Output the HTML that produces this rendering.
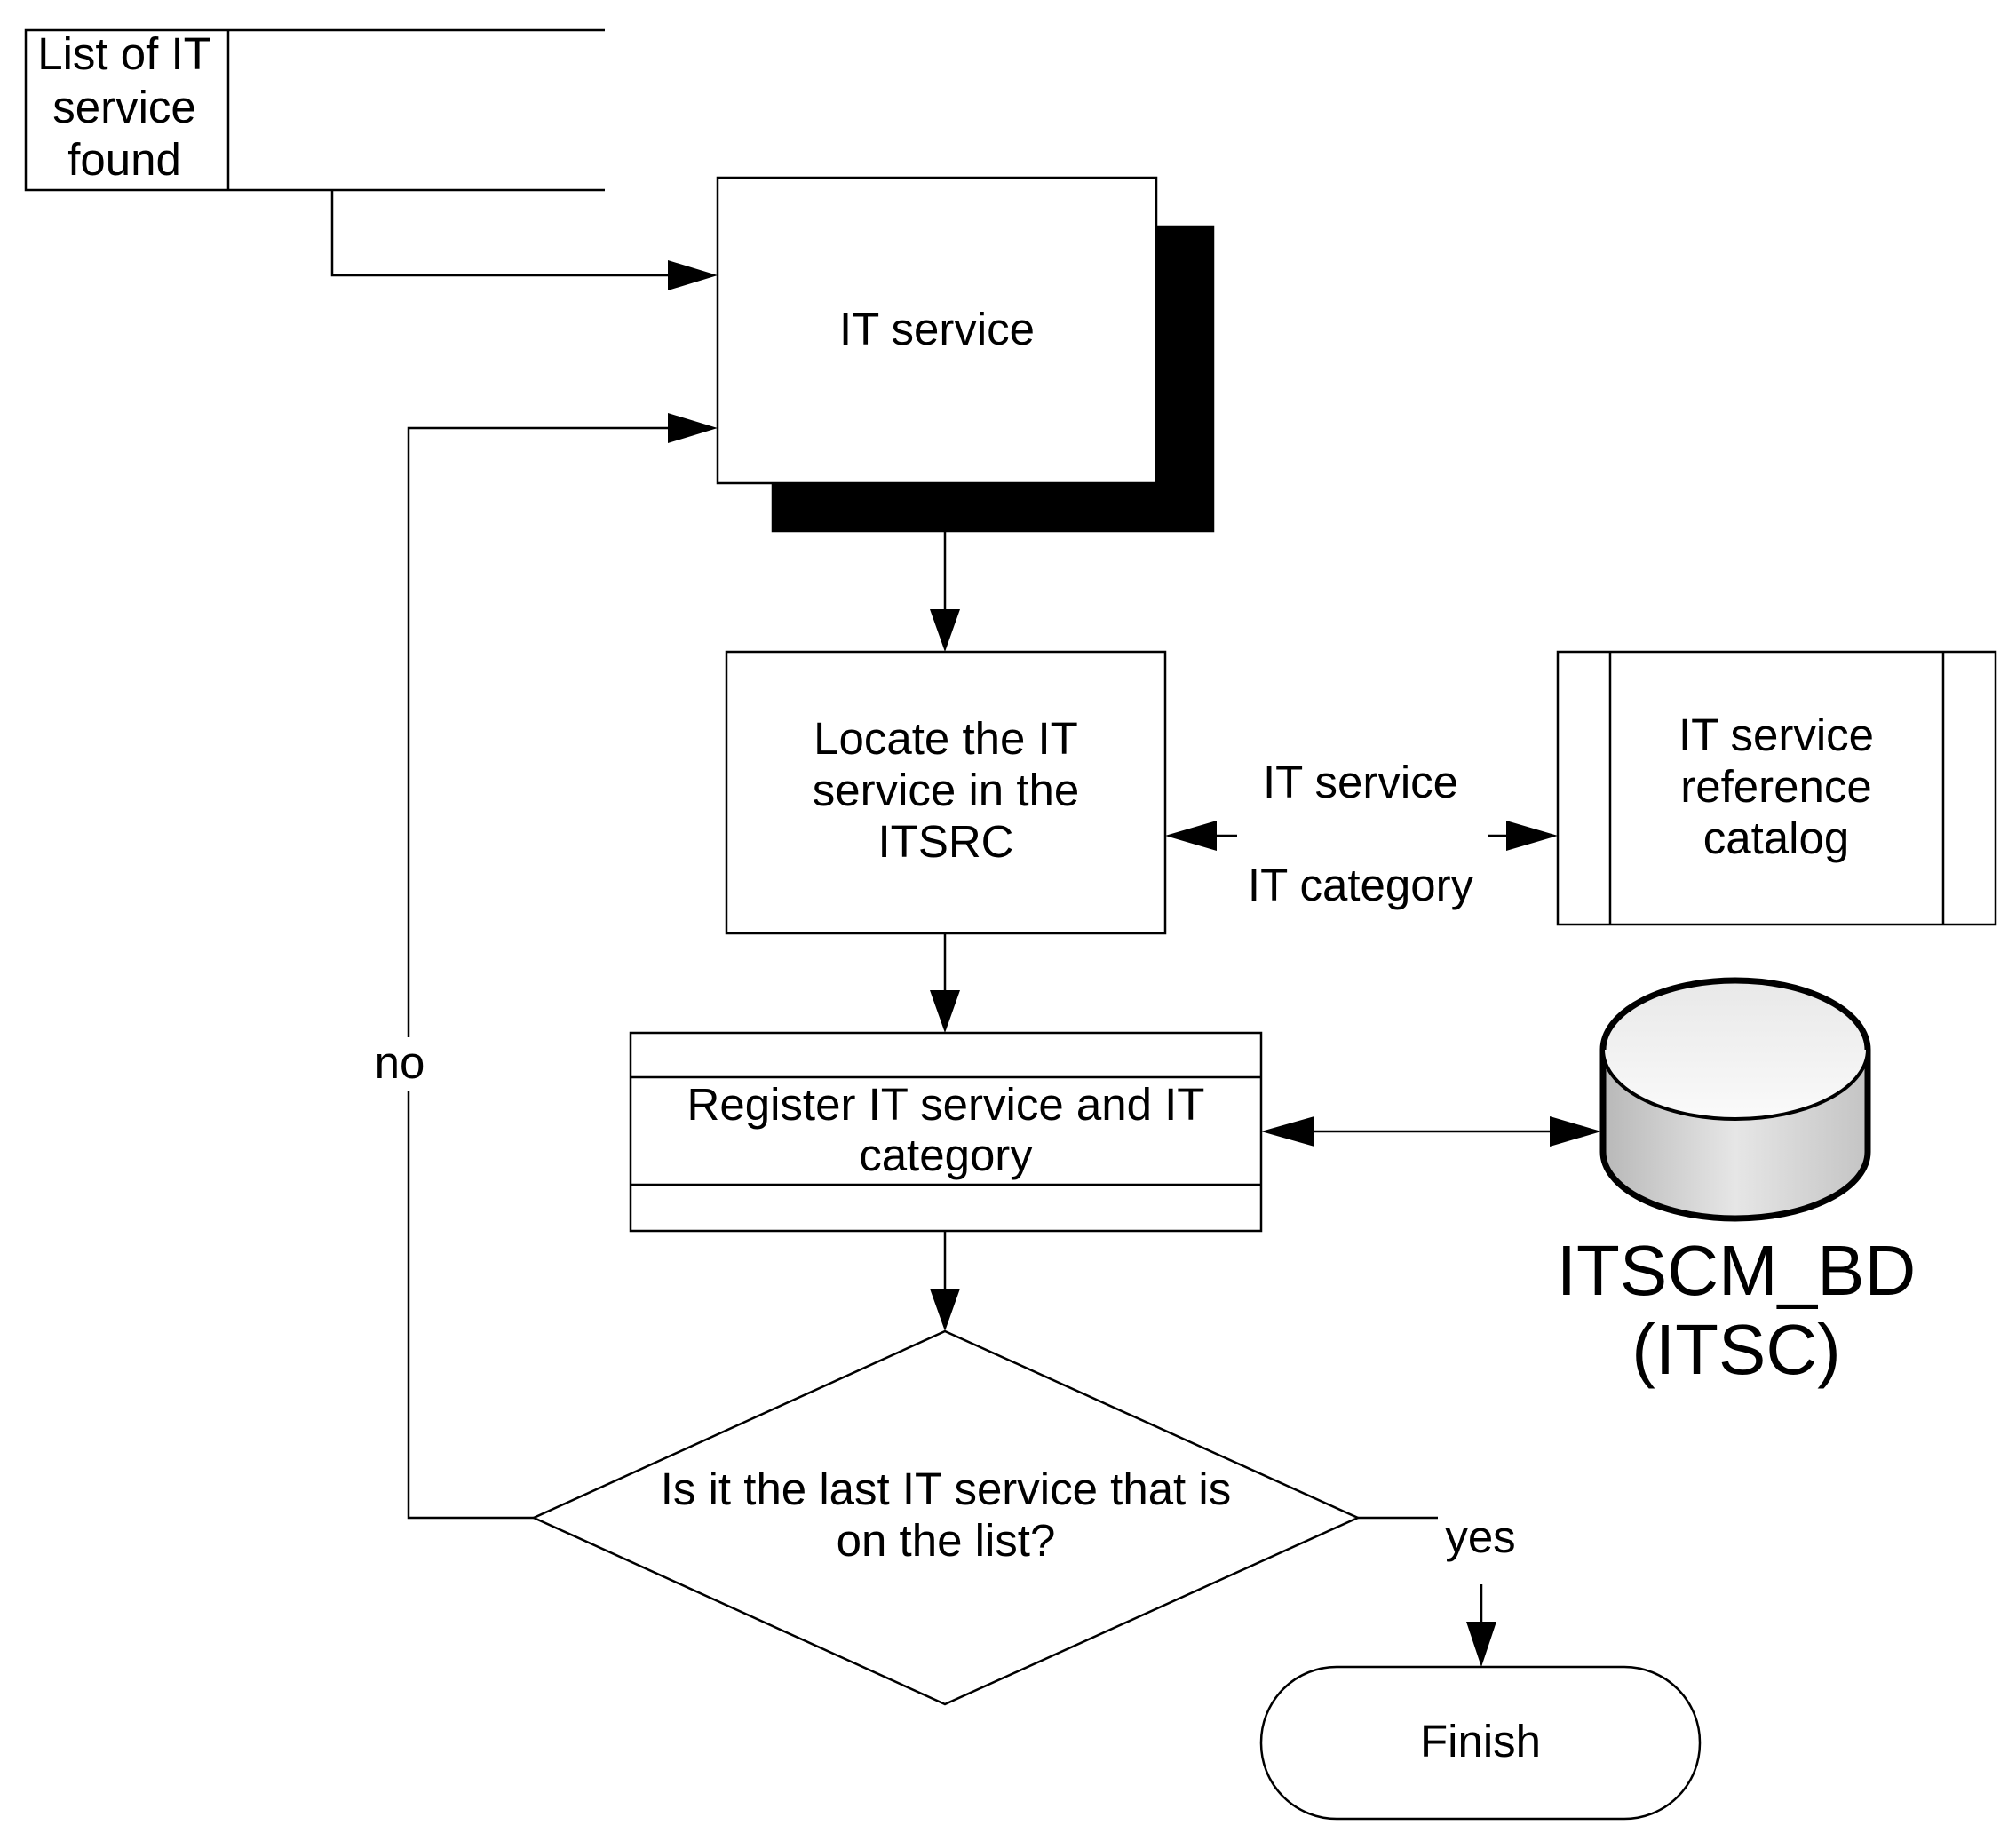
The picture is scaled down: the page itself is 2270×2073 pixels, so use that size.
<!DOCTYPE html>
<html><head><meta charset="utf-8"><style>html,body{margin:0;padding:0;background:#fff}svg{display:block}</style></head>
<body>
<svg width="2270" height="2073" viewBox="0 0 2270 2073" xmlns="http://www.w3.org/2000/svg" font-family="Liberation Sans, Arial, sans-serif" font-size="51" text-anchor="middle">
<defs>
<linearGradient id="g" x1="0" x2="1" y1="0" y2="0">
<stop offset="0" stop-color="#b8b8b8"/><stop offset="0.5" stop-color="#e6e6e6"/><stop offset="1" stop-color="#c4c4c4"/>
</linearGradient>
<linearGradient id="g2" x1="0" x2="0" y1="0" y2="1">
<stop offset="0" stop-color="#e8e8e8"/><stop offset="1" stop-color="#fafafa"/>
</linearGradient>
</defs>
<g stroke="#000" stroke-width="2.5" fill="none">
<path d="M681 34 H29 V214 H681 M257 34 V214"/>
<rect x="870" y="255" width="496" height="343" fill="#000"/>
<rect x="808" y="200" width="494" height="344" fill="#fff"/>
<path d="M374 214 V310 H760"/>
<path d="M460 1168 V482 H760"/>
<path d="M460 1228 V1709 H601"/>
<path d="M1064 598 V690"/>
<rect x="818" y="734" width="494" height="317" fill="#fff"/>
<rect x="1754" y="734" width="493" height="307"/>
<path d="M1813 734 V1041 M2188 734 V1041"/>
<path d="M1360 941 H1393 M1675 941 H1710"/>
<path d="M1064 1051 V1120"/>
<rect x="710" y="1163" width="710" height="223"/>
<path d="M710 1213 H1420 M710 1334 H1420"/>
<path d="M1460 1274 H1760"/>
<path d="M1064 1386 V1455"/>
<path d="M1064 1499 L1529 1709 L1064 1919 L601 1709 Z"/>
<path d="M1529 1709 H1619 M1668 1784 V1830"/>
<rect x="1420" y="1877" width="494" height="171" rx="85" ry="85"/>
</g>
<g fill="#000">
<polygon points="808,310 752,293 752,327"/>
<polygon points="808,482 752,465 752,499"/>
<polygon points="1064,734 1047,686 1081,686"/>
<polygon points="1312,941 1370,924 1370,958"/>
<polygon points="1754,941 1696,924 1696,958"/>
<polygon points="1064,1163 1047,1115 1081,1115"/>
<polygon points="1420,1274 1480,1257 1480,1291"/>
<polygon points="1803,1274 1745,1257 1745,1291"/>
<polygon points="1064,1499 1047,1451 1081,1451"/>
<polygon points="1668,1877 1651,1826 1685,1826"/>
</g>
<path d="M1805 1182 V1297 A149 75 0 0 0 2103 1297 V1182" fill="url(#g)" stroke="#000" stroke-width="7"/>
<ellipse cx="1954" cy="1182" rx="149" ry="78" fill="url(#g2)" stroke="#000" stroke-width="4"/>
<path d="M1805 1182 A149 78 0 0 1 2103 1182" fill="none" stroke="#000" stroke-width="7"/>
<g fill="#000">
<text x="140" y="78">List of IT</text>
<text x="140" y="138">service</text>
<text x="140" y="197">found</text>
<text x="1055" y="388">IT service</text>
<text x="1065" y="849">Locate the IT</text>
<text x="1065" y="907">service in the</text>
<text x="1065" y="965">ITSRC</text>
<text x="1532" y="898">IT service</text>
<text x="1532" y="1014">IT category</text>
<text x="2000" y="845">IT service</text>
<text x="2000" y="903">reference</text>
<text x="2000" y="961">catalog</text>
<text x="1065" y="1261">Register IT service and IT</text>
<text x="1065" y="1318">category</text>
<text x="450" y="1214">no</text>
<text x="1065" y="1694">Is it the last IT service that is</text>
<text x="1065" y="1752">on the list?</text>
<text x="1667" y="1748">yes</text>
<text x="1667" y="1978">Finish</text>
<text x="1955" y="1458" font-size="80">ITSCM_BD</text>
<text x="1955" y="1547" font-size="80">(ITSC)</text>
</g>
</svg>
</body></html>
